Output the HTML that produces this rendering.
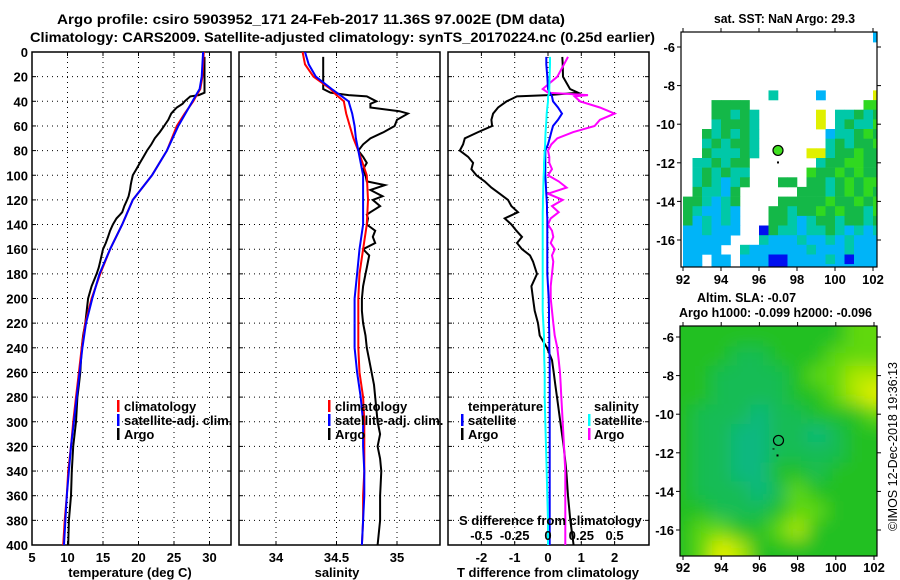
<!DOCTYPE html>
<html><head><meta charset="utf-8"><style>
html,body{margin:0;padding:0;background:#fff;}
svg{display:block;font-family:"Liberation Sans",sans-serif;}
</style></head><body>
<svg id="fig" width="900" height="580" viewBox="0 0 900 580">
<defs>
<clipPath id="c1"><rect x="32" y="52" width="199" height="493"/></clipPath>
<clipPath id="c2"><rect x="239" y="52" width="201" height="493"/></clipPath>
<clipPath id="c3"><rect x="448" y="52" width="201" height="493"/></clipPath>
<clipPath id="cm1"><rect x="681" y="32" width="196" height="235"/></clipPath>
<clipPath id="cm2"><rect x="680" y="326" width="197" height="230"/></clipPath>
<filter id="blur" x="-10%" y="-10%" width="120%" height="120%"><feGaussianBlur stdDeviation="9"/></filter>
</defs>
<g font-weight="bold" font-size="14" fill="#000">
<text x="57" y="24" textLength="508" lengthAdjust="spacingAndGlyphs">Argo profile: csiro 5903952_171 24-Feb-2017 11.36S 97.002E (DM data)</text>
<text x="30" y="42" textLength="625" lengthAdjust="spacingAndGlyphs">Climatology: CARS2009. Satellite-adjusted climatology: synTS_20170224.nc (0.25d earlier)</text>
</g>
<g font-weight="bold" font-size="13">
<text x="714" y="23" textLength="141" lengthAdjust="spacingAndGlyphs">sat. SST: NaN Argo: 29.3</text>
<text x="697" y="302" textLength="99" lengthAdjust="spacingAndGlyphs">Altim. SLA: -0.07</text>
<text x="679" y="317" textLength="193" lengthAdjust="spacingAndGlyphs">Argo h1000: -0.099 h2000: -0.096</text>
</g>
<text transform="translate(897,531) rotate(-90)" font-size="13" textLength="169" lengthAdjust="spacingAndGlyphs">©IMOS 12-Dec-2018 19:36:13</text>
<g id="root"></g>
</svg>
<script>
// ---------- data ----------
const depthTicks=[0,20,40,60,80,100,120,140,160,180,200,220,240,260,280,300,320,340,360,380,400];
const tempTicks=[5,10,15,20,25,30];
const salTicks=[34,34.5,35];
const salTickLabels=["34","34.5","35"];
const diffTicks=[-2,-1,0,1,2];
const sdiffTicks=[-0.5,-0.25,0,0.25,0.5];
const sdiffTickLabels=["-0.5","-0.25","0","0.25","0.5"];
const lonTicks=[92,94,96,98,100,102];
const latTicks=[-6,-8,-10,-12,-14,-16];

const climDepth=[0,10,20,30,35,40,50,60,70,80,100,120,140,160,180,200,220,240,260,280,300,320,340,360,380,400];
const climTemp=[29.2,29.1,29.0,28.7,28.2,27.7,26.5,25.4,24.7,24.0,21.9,19.2,17.7,16.0,14.6,13.4,12.5,12.0,11.6,11.2,10.8,10.5,10.1,9.9,9.6,9.4];
const satTemp=[29.1,29.0,28.9,28.6,28.1,27.6,26.6,25.6,24.8,24.0,21.9,19.2,17.7,16.0,14.5,13.5,12.6,12.1,11.7,11.3,10.9,10.5,10.2,9.9,9.7,9.5];
const climSal=[34.22,34.24,34.31,34.45,34.50,34.56,34.58,34.61,34.64,34.68,34.75,34.76,34.75,34.72,34.69,34.68,34.68,34.68,34.69,34.72,34.73,34.73,34.73,34.72,34.72,34.71];
const satSal=[34.24,34.27,34.33,34.46,34.53,34.60,34.63,34.65,34.66,34.68,34.72,34.72,34.72,34.69,34.67,34.65,34.65,34.65,34.67,34.70,34.72,34.72,34.73,34.73,34.72,34.71];

const argoDepth=[4,10,20,30,33,35,36,40,42,45,48,50,55,60,65,70,75,80,85,90,95,100,105,108,112,117,120,125,130,132,135,140,145,150,155,160,165,170,175,180,190,200,210,220,230,240,250,260,270,280,290,300,310,320,330,340,360,380,400];
const argoTemp=[29.3,29.3,29.3,29.3,29.3,28.5,27.3,26.5,26.2,25.4,24.9,24.6,24.2,23.6,23.0,22.3,21.8,21.2,20.7,20.2,19.7,19.2,19.0,18.9,18.8,18.6,18.4,18.0,17.7,17.4,16.9,16.4,16.0,15.7,15.4,15.0,14.8,14.6,14.4,14.1,13.4,12.9,12.7,12.5,12.2,12.0,11.9,11.8,11.6,11.4,11.3,11.2,11.0,10.8,10.7,10.6,10.5,10.2,10.1];
const argoSal=[34.39,34.39,34.39,34.39,34.45,34.60,34.75,34.83,34.78,34.78,35.02,35.09,35.00,34.98,34.89,34.78,34.72,34.68,34.72,34.75,34.72,34.74,34.75,34.90,34.78,34.88,34.80,34.86,34.78,34.75,34.76,34.75,34.82,34.80,34.82,34.72,34.77,34.76,34.75,34.74,34.72,34.71,34.71,34.72,34.74,34.75,34.77,34.79,34.81,34.82,34.83,34.84,34.86,34.84,34.86,34.87,34.86,34.86,34.84];

const diffDepth=[4,10,20,30,33,35,36,40,45,50,55,60,65,70,75,80,85,90,95,100,105,110,115,120,125,130,135,140,145,150,155,160,165,170,180,190,200,210,220,230,240,250,260,270,280,300,320,340,360,380,400];
const argoTDiff=[0.43,0.44,0.45,0.66,0.9,0.0,-0.93,-1.24,-1.5,-1.65,-1.7,-1.68,-2.1,-2.5,-2.55,-2.65,-2.4,-2.25,-2.3,-2.15,-1.9,-1.7,-1.45,-1.2,-1.1,-0.9,-1.3,-1.1,-0.95,-0.78,-0.93,-0.78,-0.54,-0.45,-0.33,-0.5,-0.45,-0.4,-0.3,-0.25,-0.03,0.12,0.17,0.22,0.27,0.37,0.47,0.55,0.6,0.67,0.77];
const satTDiff=[-0.05,-0.05,-0.02,0.0,0.05,0.1,0.12,0.15,0.3,0.42,0.3,0.15,0.1,0.05,0.0,-0.08,-0.08,-0.08,-0.08,-0.08,-0.07,-0.06,-0.05,-0.04,-0.03,-0.03,-0.02,-0.02,-0.02,-0.02,-0.02,-0.02,-0.02,-0.02,-0.02,0.0,0.02,0.03,0.03,0.04,0.04,0.05,0.05,0.05,0.05,0.05,0.05,0.05,0.05,0.05,0.05];
const satSDiff=[0.015,0.015,0.012,0.01,0.008,0.005,0.0,0.0,-0.005,-0.01,-0.012,-0.015,-0.018,-0.02,-0.022,-0.025,-0.027,-0.03,-0.03,-0.032,-0.034,-0.035,-0.036,-0.038,-0.038,-0.04,-0.04,-0.04,-0.04,-0.04,-0.04,-0.04,-0.04,-0.04,-0.04,-0.04,-0.04,-0.04,-0.035,-0.03,-0.03,-0.028,-0.025,-0.025,-0.025,-0.02,-0.015,-0.01,-0.005,0.0,0.0];
const argoSDiff=[0.15,0.12,0.07,-0.04,0.0,0.3,0.2,0.24,0.39,0.5,0.39,0.35,0.19,0.07,0.025,0.0,0.01,0.01,0.03,0.0,0.08,0.14,0.0,0.11,0.03,0.08,0.02,0.0,0.03,0.04,0.02,0.05,0.03,0.04,0.03,0.02,0.02,0.03,0.04,0.05,0.07,0.08,0.09,0.095,0.1,0.11,0.12,0.13,0.13,0.13,0.13];

// SST map (0.5 deg cells, lon 92..102.5, lat rows from -5.25 downward)
const sstRows=[
"....................b",
".....................",
".....................",
".....................",
".....................",
".....................",
".........t....b.....y",
"...gggg............ll",
"...ggtgt......y.ttgtg",
"...tgggt......y.tgttl",
"..gtgtgt.......bttglg",
"..tgtggt.......tgtggl",
"..gtttgt.....yytgglgg",
".ttgtgg.......tggllgg",
".tgtgtt......lgglglgg",
".tgtbtg...gg.ggtglgll",
".gttbg......gggtglglg",
"ggtbtg....ggggglgglgl",
"gtbbtb...ggtgglglggtl",
"gbtbtb...ggtbtggtggtg",
"bbtbbb..dgttbttgtbtbt",
"bbbbb...tbbbtbbtbtbbb",
"bbbb..tbbbbbbtbbbtbbb",
"bb.bb.bbbddbbbbtbdbbb",
"bb.bb.bbbddbbbbbbbbbb"];
// SLA map (1 deg cells centred lon 92..102, lat -6..-17) value class 0..5
const slaRows=[
[2,2,2,2,2,2,2,2,2,3,3],
[2,2,2,1,1,2,2,2,3,3,3],
[2,2,1,1,1,1,2,3,3,4,4],
[2,2,1,1,1,1,2,2,3,4,5],
[2,1,1,1,0,1,1,2,2,2,3],
[2,1,1,0,0,1,1,0,1,2,2],
[2,1,1,0,0,1,1,1,1,2,2],
[2,1,1,0,0,2,2,1,2,2,2],
[2,1,1,1,0,1,3,2,2,2,2],
[2,2,1,1,1,2,3,3,2,2,2],
[2,3,3,2,2,3,4,2,2,2,2],
[2,3,5,4,2,2,2,2,2,2,2]];
const floatLon=97.0, floatLat=-11.36;

// ---------- helpers ----------
const NS="http://www.w3.org/2000/svg";
const root=document.getElementById('root');
function mk(tag,attrs,parent){const e=document.createElementNS(NS,tag);for(const k in attrs)e.setAttribute(k,attrs[k]);(parent||root).appendChild(e);return e;}
const Y0=52,Y1=545;
function yD(d){return Y0+(d/400)*(Y1-Y0);}
function xT(t){return 32+(t-5)*7.1;}
function xS(s){return 276+(s-34)*121;}
function xDf(d){return 548+d*33.3;}
function xSd(s){return 548+s*4*33.3;}
function lonX1(l){return 683+(l-92)*19.0;}
function latY1(l){return 47+(-6-l)*19.3;}
function lonX2(l){return 683+(l-92)*19.1;}
function latY2(l){return 337+(-6-l)*19.3;}

function line(xs,ds,fx,color,clip,name,w){
  let p='';for(let i=0;i<xs.length;i++){p+=(i?'L':'M')+fx(xs[i]).toFixed(1)+','+yD(ds[i]).toFixed(1);}
  const e=mk('path',{d:p,fill:'none',stroke:color,'stroke-width':w||2,'clip-path':'url(#'+clip+')'});
  
  
}
function panel(x0,x1,clip,vgrid,fx,name,labels){
  const g=mk('g',{});
  
  
  depthTicks.forEach(d=>{const y=yD(d);
    if(d>0&&d<400)mk('line',{x1:x0,x2:x1,y1:y,y2:y,stroke:'#000','stroke-dasharray':'1,4'},g);
    mk('line',{x1:x0,x2:x0+4,y1:y,y2:y,stroke:'#000'},g);
    mk('line',{x1:x1-4,x2:x1,y1:y,y2:y,stroke:'#000'},g);
    if(labels){const t=mk('text',{x:x0-4,y:y+5,'text-anchor':'end','font-size':13,'font-weight':'bold'},g);t.textContent=d;
      
      }
  });
  vgrid.forEach(v=>{const x=fx(v);
    mk('line',{x1:x,x2:x,y1:Y0,y2:Y1,stroke:'#000','stroke-dasharray':'1,4'},g);
    mk('line',{x1:x,x2:x,y1:Y1-4,y2:Y1,stroke:'#000'},g);
    mk('line',{x1:x,x2:x,y1:Y0,y2:Y0+4,stroke:'#000'},g);
  });
  mk('rect',{x:x0,y:Y0,width:x1-x0,height:Y1-Y0,fill:'none',stroke:'#000','stroke-width':1.5},g);
}
function txt(x,y,s,name,anchor,size,color){const t=mk('text',{x:x,y:y,'text-anchor':anchor||'start','font-size':size||13,'font-weight':'bold',fill:color||'#000'});t.textContent=s;
  
  return t;}
function legendBar(x,y,color){const r=mk('rect',{x:x,y:y-11,width:2.5,height:12,fill:color});
  
  }

// ---------- panel 1 temperature ----------
panel(32,231,'c1',tempTicks,xT,'temperature-panel',true);
tempTicks.forEach(t=>txt(xT(t),562,String(t),'temperature-tick-label','middle'));
txt(130,577,'temperature (deg C)','temperature-axis-title','middle');
line(argoTemp,argoDepth,xT,'#000','c1','argo-temperature-line');
line(climTemp,climDepth,xT,'#f00','c1','climatology-temperature-line');
line(satTemp,climDepth,xT,'#00f','c1','satellite-temperature-line');
legendBar(117,411,'#f00');txt(124,411,'climatology','legend-climatology');
legendBar(117,425,'#00f');txt(124,425,'satellite-adj. clim.','legend-satellite');
legendBar(117,439,'#000');txt(124,439,'Argo','legend-argo');

// ---------- panel 2 salinity ----------
panel(239,440,'c2',salTicks,xS,'salinity-panel',false);
salTicks.forEach((s,i)=>txt(xS(s),562,salTickLabels[i],'salinity-tick-label','middle'));
txt(337,577,'salinity','salinity-axis-title','middle');
line(argoSal,argoDepth,xS,'#000','c2','argo-salinity-line');
line(climSal,climDepth,xS,'#f00','c2','climatology-salinity-line');
line(satSal,climDepth,xS,'#00f','c2','satellite-salinity-line');
legendBar(328,411,'#f00');txt(335,411,'climatology','legend-climatology');
legendBar(328,425,'#00f');txt(335,425,'satellite-adj. clim.','legend-satellite');
legendBar(328,439,'#000');txt(335,439,'Argo','legend-argo');

// ---------- panel 3 differences ----------
panel(448,649,'c3',diffTicks,xDf,'difference-panel',false);
diffTicks.forEach(d=>txt(xDf(d),562,String(d),'t-diff-tick-label','middle'));
txt(548,577,'T difference from climatology','t-diff-axis-title','middle');
line(argoTDiff,diffDepth,xDf,'#000','c3','argo-t-diff-line');
line(argoSDiff,diffDepth,xSd,'#f0f','c3','argo-s-diff-line');
line(satTDiff,diffDepth,xDf,'#00f','c3','satellite-t-diff-line');
line(satSDiff,diffDepth,xSd,'#0ff','c3','satellite-s-diff-line');
txt(468,411,'temperature','legend-temperature-header');
legendBar(461,425,'#00f');txt(468,425,'satellite','legend-t-satellite');
legendBar(461,439,'#000');txt(468,439,'Argo','legend-t-argo');
txt(594,411,'salinity','legend-salinity-header');
legendBar(588,425,'#0ff');txt(594,425,'satellite','legend-s-satellite');
legendBar(588,439,'#f0f');txt(594,439,'Argo','legend-s-argo');
txt(459,525,'S difference from climatology','s-diff-axis-title');
sdiffTicks.forEach((s,i)=>txt(xSd(s),540,sdiffTickLabels[i],'s-diff-tick-label','middle'));

// ---------- SST map ----------
const sstColors={g:'#14b848',t:'#00c8a8',b:'#00b4f8',y:'#e0f000',l:'#30d820',d:'#0010f0'};
const gm1=mk('g',{'clip-path':'url(#cm1)'});


sstRows.forEach((row,r)=>{const latTop=-5.25-0.5*r;
  for(let c=0;c<row.length;c++){const ch=row[c];if(ch==='.')continue;
    const lon=92+0.5*c;const x=lonX1(lon),y=latY1(latTop);
    const cell=mk('rect',{x:x.toFixed(1),y:y.toFixed(1),width:(lonX1(lon+0.5)-x+0.3).toFixed(1),height:(latY1(latTop-0.5)-y+0.3).toFixed(1),fill:sstColors[ch]},gm1);
    
    
  }});
const fm1=mk('circle',{cx:lonX1(floatLon),cy:latY1(floatLat),r:5,fill:'#40e020',stroke:'#000','stroke-width':1.2});


mk('rect',{x:lonX1(floatLon)-1,y:latY1(floatLat)+11,width:2,height:2,fill:'#000'});
mk('rect',{x:681,y:32,width:196,height:235,fill:'none',stroke:'#000','stroke-width':1.2});

// ---------- SLA map ----------
const slaColors=['#10b880','#18bc54','#22c022','#60d810','#b0e800','#e8f000'];
const gm2=mk('g',{'clip-path':'url(#cm2)'});


mk('rect',{x:680,y:326,width:197,height:230,fill:'#22c022'},gm2);
const gb=mk('g',{filter:'url(#blur)'},gm2);
slaRows.forEach((row,r)=>{const lat=-6-r;
  row.forEach((v,c)=>{const lon=92+c;
    const x=lonX2(lon-0.5),y=latY2(lat+0.5);
    const pad=(r===0?-30:0),padB=(r===slaRows.length-1?30:0),padL=(c===0?-30:0),padR=(c===row.length-1?30:0);
    const cell=mk('rect',{x:(x+padL).toFixed(1),y:(y+pad).toFixed(1),width:(lonX2(lon+0.5)-x-padL+padR+0.5).toFixed(1),height:(latY2(lat-0.5)-y-pad+padB+0.5).toFixed(1),fill:slaColors[v]},gb);
    
    
  });});
const fm2=mk('circle',{cx:lonX2(floatLon),cy:latY2(floatLat),r:5,fill:'none',stroke:'#000','stroke-width':1.2});


mk('rect',{x:lonX2(floatLon)-6,y:latY2(floatLat)+8,width:2,height:1,fill:'#000'});
mk('rect',{x:lonX2(floatLon)-2,y:latY2(floatLat)+14,width:2,height:2,fill:'#000'});
mk('rect',{x:680,y:326,width:197,height:230,fill:'none',stroke:'#000','stroke-width':1.2});

// map axes
function mapAxes(fx,fy,top,bottom,left,right,labY){
  lonTicks.forEach(l=>{const x=fx(l);
    mk('line',{x1:x,x2:x,y1:bottom,y2:bottom+4,stroke:'#000'});
    mk('line',{x1:x,x2:x,y1:top-4,y2:top,stroke:'#000'});
    txt(x,labY,String(l),'lon-tick-label','middle');});
  latTicks.forEach(l=>{const y=fy(l);
    mk('line',{x1:left-4,x2:left,y1:y,y2:y,stroke:'#000'});
    mk('line',{x1:right,x2:right+4,y1:y,y2:y,stroke:'#000'});
    txt(left-6,y+5,String(l),'lat-tick-label','end');});
}
mapAxes(lonX1,latY1,32,267,681,877,284);
mapAxes(lonX2,latY2,326,556,680,877,572);
</script>
</body></html>
